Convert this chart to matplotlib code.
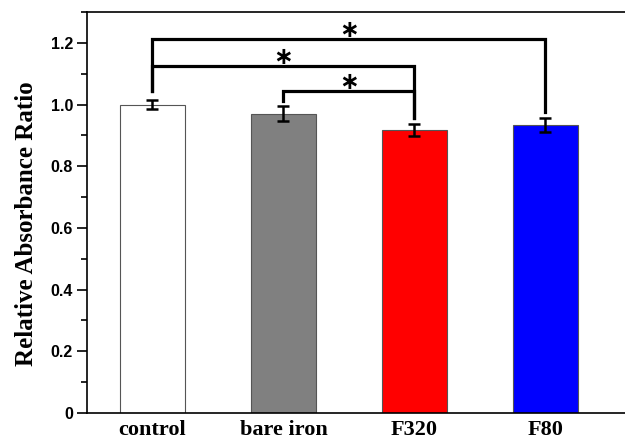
import matplotlib
matplotlib.use("Agg")
import matplotlib.pyplot as plt
from matplotlib.ticker import MultipleLocator, FixedLocator

categories = ["control", "bare iron", "F320", "F80"]
values = [1.0, 0.970, 0.917, 0.934]
errors = [0.016, 0.024, 0.019, 0.023]
colors = ["#ffffff", "#808080", "#ff0000", "#0000ff"]
# significance brackets: (left idx, right idx, bar height, left leg bottom, right leg bottom, star y)
brackets = [(0, 3, 1.213, 1.045, 0.975, 1.249),
            (0, 2, 1.124, 1.045, 0.955, 1.161),
            (1, 2, 1.044, 1.010, 0.955, 1.080)]
yticks = [0, 0.2, 0.4, 0.6, 0.8, 1.0, 1.2]
ytick_labels = ["0", "0.2", "0.4", "0.6", "0.8", "1.0", "1.2"]

fig = plt.figure(figsize=(6.25, 4.44), dpi=100)
ax = fig.add_axes([87/625, 31/444, (628-87)/625, (413-12)/444])

x = list(range(1, len(categories) + 1))
ax.bar(x, values, width=0.5, color=colors, edgecolor="#555555", linewidth=0.8, zorder=2)
ax.errorbar(x, values, yerr=errors, fmt="none", ecolor="black", elinewidth=1.8,
            capsize=4, capthick=1.8, zorder=3)

for li, ri, h, lb, rb, sy in brackets:
    xl, xr = x[li], x[ri]
    ax.plot([xl, xl, xr, xr], [lb, h, h, rb], color="black", linewidth=2.3,
            solid_joinstyle="miter", zorder=4)
    ax.text((xl + xr) / 2, sy, "\u2217", ha="center", va="center_baseline",
            fontsize=17, fontweight="bold", family="DejaVu Sans")

ax.set_xlim(0.5, 4.63)
ax.set_ylim(0, 1.3)
ax.yaxis.set_major_locator(FixedLocator(yticks))
ax.set_yticklabels(ytick_labels, fontsize=11.5, fontweight="bold", family="Liberation Sans")
ax.yaxis.set_minor_locator(MultipleLocator(0.1))
ax.tick_params(axis="y", which="major", direction="out", length=7, width=1.2, pad=3,
               right=True)
ax.tick_params(axis="y", which="minor", direction="out", length=4, width=1.2, right=True)
ax.set_xticks(x)
ax.set_xticklabels(categories, fontsize=16, fontweight="bold", family="Liberation Serif")
ax.tick_params(axis="x", length=0, pad=5)
ax.set_ylabel("Relative Absorbance Ratio", fontsize=18, fontweight="bold",
              family="Liberation Serif")
ax.yaxis.set_label_coords(-0.091, 0.471)
for s in ax.spines.values():
    s.set_linewidth(1.2)

fig.savefig("out.png", dpi=100)
